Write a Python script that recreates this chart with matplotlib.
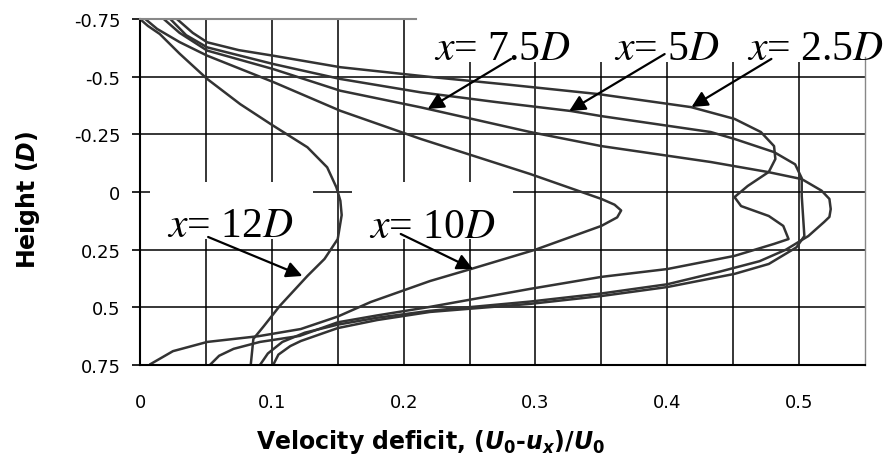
import matplotlib
matplotlib.use("Agg")
import matplotlib.pyplot as plt
from matplotlib.patches import Rectangle

plt.rcParams['font.family'] = ['DejaVu Sans']
plt.rcParams['mathtext.fontset'] = 'custom'
plt.rcParams['mathtext.rm'] = 'DejaVu Sans:bold'
plt.rcParams['mathtext.it'] = 'DejaVu Sans:bold:italic'
plt.rcParams['mathtext.bf'] = 'DejaVu Sans:bold'

# Velocity-deficit profiles (deficit, height in D) at each downstream station
x25_def = [0.028, 0.040, 0.051, 0.075, 0.101, 0.152, 0.220, 0.280, 0.347, 0.418, 0.451, 0.471,
           0.481, 0.482, 0.477, 0.461, 0.451, 0.456, 0.477, 0.488, 0.492, 0.481, 0.451, 0.400,
           0.350, 0.296, 0.220, 0.180, 0.150, 0.121, 0.091, 0.071, 0.060, 0.053]
x25_h = [-0.75, -0.690, -0.649, -0.615, -0.591, -0.541, -0.499, -0.465, -0.425, -0.368, -0.317, -0.260,
         -0.199, -0.143, -0.087, -0.026, 0.022, 0.061, 0.104, 0.147, 0.204, 0.225, 0.277, 0.334,
         0.368, 0.420, 0.498, 0.535, 0.565, 0.624, 0.650, 0.680, 0.710, 0.75]

x5_def = [0.023, 0.035, 0.051, 0.101, 0.152, 0.213, 0.270, 0.327, 0.350, 0.433, 0.451, 0.481,
          0.497, 0.502, 0.502, 0.503, 0.504, 0.498, 0.477, 0.451, 0.400, 0.350, 0.296, 0.220,
          0.180, 0.150, 0.122, 0.114, 0.105, 0.101]
x5_h = [-0.75, -0.680, -0.627, -0.555, -0.490, -0.432, -0.390, -0.351, -0.329, -0.260, -0.230, -0.173,
        -0.120, -0.060, 0.017, 0.104, 0.191, 0.240, 0.312, 0.355, 0.412, 0.451, 0.485, 0.520,
        0.555, 0.590, 0.646, 0.668, 0.705, 0.75]

x75_def = [0.018, 0.030, 0.051, 0.101, 0.152, 0.213, 0.296, 0.350, 0.433, 0.476, 0.502, 0.517,
           0.523, 0.524, 0.523, 0.519, 0.507, 0.490, 0.470, 0.440, 0.400, 0.350, 0.296, 0.220,
           0.180, 0.150, 0.125, 0.108, 0.097, 0.091]
x75_h = [-0.75, -0.690, -0.613, -0.533, -0.439, -0.367, -0.260, -0.199, -0.130, -0.087, -0.056, -0.006,
         0.030, 0.074, 0.108, 0.130, 0.191, 0.250, 0.300, 0.345, 0.400, 0.440, 0.475, 0.515,
         0.545, 0.575, 0.610, 0.650, 0.700, 0.75]

x10_def = [0.004, 0.013, 0.030, 0.051, 0.101, 0.152, 0.213, 0.296, 0.330, 0.350, 0.360, 0.365,
           0.362, 0.350, 0.300, 0.251, 0.220, 0.175, 0.150, 0.122, 0.090, 0.051, 0.025, 0.008]
x10_h = [-0.75, -0.707, -0.650, -0.591, -0.477, -0.352, -0.230, -0.078, -0.010, 0.030, 0.055, 0.080,
         0.110, 0.147, 0.250, 0.334, 0.386, 0.477, 0.540, 0.594, 0.625, 0.650, 0.690, 0.746]

x12_def = [0.0, 0.006, 0.015, 0.030, 0.051, 0.076, 0.099, 0.127, 0.142, 0.149, 0.152, 0.153,
           0.150, 0.140, 0.127, 0.106, 0.094, 0.086, 0.084]
x12_h = [-0.75, -0.720, -0.685, -0.600, -0.490, -0.381, -0.295, -0.194, -0.107, -0.020, 0.038, 0.100,
         0.204, 0.290, 0.364, 0.494, 0.581, 0.637, 0.75]

profiles = [(x25_def, x25_h), (x5_def, x5_h), (x75_def, x75_h), (x10_def, x10_h), (x12_def, x12_h)]

x_ticks = [0, 0.1, 0.2, 0.3, 0.4, 0.5]
x_tick_labels = ['0', '0.1', '0.2', '0.3', '0.4', '0.5']
x_grid = [0.05, 0.1, 0.15, 0.2, 0.25, 0.3, 0.35, 0.4, 0.45, 0.5]
y_ticks = [-0.75, -0.5, -0.25, 0, 0.25, 0.5, 0.75]
y_tick_labels = ['-0.75', '-0.5', '-0.25', '0', '0.25', '0.5', '0.75']
y_grid = [-0.5, -0.25, 0, 0.25, 0.5]

# station labels: (text, text anchor, arrow tip, arrow tail)
labels = [
    (r'$x$= 7.5$D$', (0.2229, -0.577), (0.2183, -0.360), (0.2815, -0.577)),
    (r'$x$= 5$D$', (0.3598, -0.577), (0.3256, -0.351), (0.398, -0.598)),
    (r'$x$= 2.5$D$', (0.4602, -0.577), (0.4184, -0.3685), (0.479, -0.577)),
    (r'$x$= 12$D$', (0.0205, 0.190), (0.1232, 0.364), (0.0517, 0.195)),
    (r'$x$= 10$D$', (0.1734, 0.195), (0.2526, 0.334), (0.1978, 0.182)),
]

fig = plt.figure(figsize=(8.88, 4.60), dpi=100)
ax = fig.add_axes([140 / 888, 1 - 366 / 460, 725 / 888, 346 / 460])
ax.set_xlim(0, 0.55)
ax.set_ylim(0.75, -0.75)

for g in x_grid:
    ax.axvline(g, color='black', lw=1.1, zorder=0.5)
for g in y_grid:
    ax.axhline(g, color='black', lw=1.1, zorder=0.5)

# white label panels sitting over the grid
panels = [(0.209, -0.80, 0.40, 0.236), (0.0076, -0.043, 0.124, 0.247), (0.161, -0.043, 0.122, 0.247)]
for x0, y0, w, h in panels:
    ax.add_patch(Rectangle((x0, y0), w, h, facecolor='white', edgecolor='none', zorder=1.0, clip_on=True))

for d, h in profiles:
    ax.plot(d, h, color='#333333', lw=1.8, zorder=2, solid_joinstyle='round')

for txt, pos, tip, tail in labels:
    ax.text(pos[0], pos[1], txt, fontsize=30, family='Liberation Serif', math_fontfamily='stix',
            ha='left', va='baseline', zorder=3)
    ax.annotate('', xy=tip, xytext=tail,
                arrowprops=dict(arrowstyle='-|>', color='black', lw=1.6, mutation_scale=24,
                                shrinkA=0, shrinkB=0), zorder=3)

for s in ['left', 'bottom']:
    ax.spines[s].set_color('black')
    ax.spines[s].set_linewidth(1.5)
ax.spines['top'].set_color('#888888')
ax.spines['top'].set_linewidth(1.5)
ax.spines['top'].set_bounds(0, 0.209)
ax.spines['right'].set_color('#888888')
ax.spines['right'].set_linewidth(1.0)
ax.spines['right'].set_bounds(-0.585, 0.75)

ax.set_xticks(x_ticks)
ax.set_xticklabels(x_tick_labels)
ax.set_yticks(y_ticks)
ax.set_yticklabels(y_tick_labels)
ax.tick_params(axis='x', length=0, pad=20, labelsize=13)
ax.tick_params(axis='y', direction='out', length=6, width=1.2, pad=8, labelsize=13)

ax.set_xlabel(r'Velocity deficit, $(U_0$-$u_x)/U_0$', fontsize=17, fontweight='bold')
ax.xaxis.set_label_coords(0.401, -0.18)
ax.set_ylabel(r'Height ($D$)', fontsize=17, fontweight='bold')
ax.yaxis.set_label_coords(-0.135, 0.48)

fig.savefig('out.png', dpi=100)
